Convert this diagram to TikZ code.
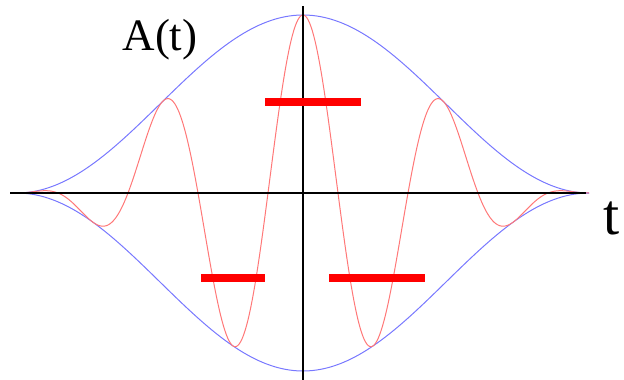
\documentclass[tikz,border=0pt]{standalone}
\usepackage{fontspec}
\setmainfont{Liberation Serif}
\usetikzlibrary{positioning}
\definecolor{envblue}{RGB}{120,120,255}
\definecolor{wavered}{RGB}{255,120,120}
\definecolor{barred}{RGB}{255,0,0}
\tikzstyle{axis} = [draw=black, line width=1.4pt]
\tikzstyle{envelope} = [draw=envblue, line width=1pt]
\tikzstyle{wave} = [draw=wavered, line width=1pt]
\tikzstyle{level} = [draw=barred, line width=8pt]
\tikzstyle{lbl} = [inner sep=0pt, text=black]

\begin{document}
\begin{tikzpicture}[x=1pt, y=-1pt]
	\useasboundingbox (0,0) rectangle (624,380);
	\coordinate (origin) at (303,193);
	\coordinate (left) at (10,193);
	\coordinate (right) at (586,193);
	\coordinate (top) at (303,6);
	\coordinate (bottom) at (303,380);

	% envelope
	\draw[envelope] plot[domain=-286:286, samples=150] ({303+\x}, {193-89*(1+cos(\x*0.629371))});
	\draw[envelope] plot[domain=-286:286, samples=150] ({303+\x}, {193+89*(1+cos(\x*0.629371))});
	% carrier
	\draw[wave] plot[domain=-286:286, samples=400] ({303+\x}, {193-89*(1+cos(\x*0.629371))*cos(\x*2.571429)});

	\draw[axis] (left) -- (right);
	\draw[axis] (top) -- (bottom);

	% levels
	\draw[level] (265,102) -- (361,102);
	\draw[level] (201,278) -- (265,278);
	\draw[level] (329,278) -- (425,278);

	\node[lbl, font=\fontsize{45}{45}\selectfont] (amp) at (160,40) {A(t)};
	\node[lbl, font=\fontsize{58}{58}\selectfont] (time) at (612,218) {t};
\end{tikzpicture}
\end{document}
